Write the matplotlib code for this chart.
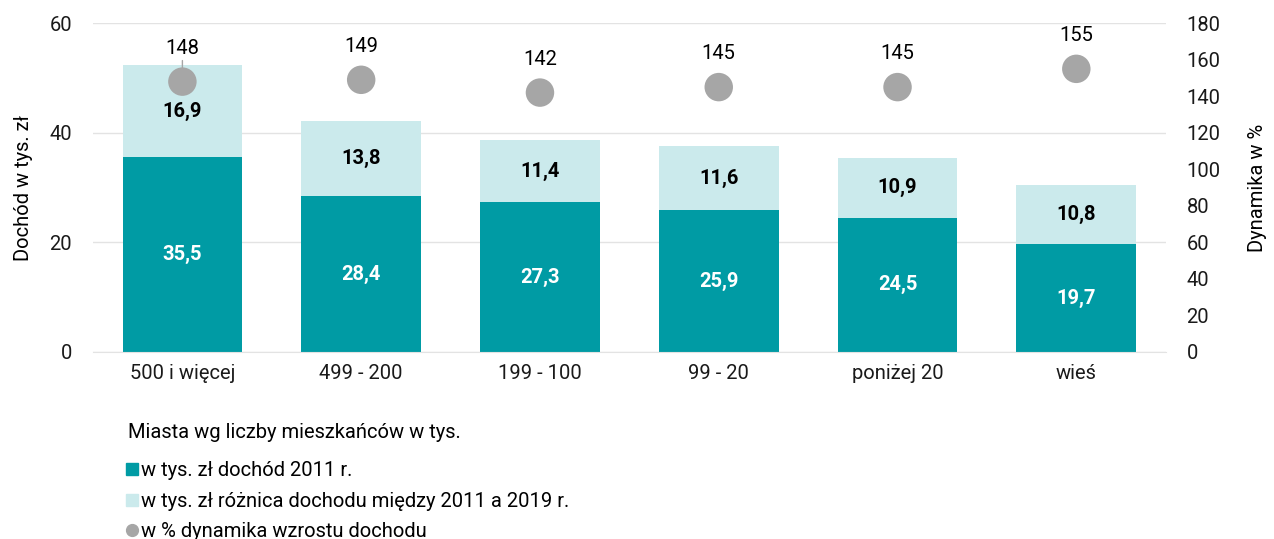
import matplotlib.pyplot as plt
import numpy as np

plt.rcParams['font.family'] = ['Roboto', 'DejaVu Sans']

categories = ['500 i więcej', '499 - 200', '199 - 100', '99 - 20', 'poniżej 20', 'wieś']
income_2011 = [35.5, 28.4, 27.3, 25.9, 24.5, 19.7]
diff_2019 = [16.9, 13.8, 11.4, 11.6, 10.9, 10.8]
dynamics = [148, 149, 142, 145, 145, 155]

dark = '#009ba4'
light = '#cbeaec'
grey = '#a6a6a6'
fs = 14.5

fig = plt.figure(figsize=(12.74, 5.39), dpi=100)
ax = fig.add_axes([0.073, 0.347, 0.842, 0.610])
x = np.arange(len(categories))
w = 0.67

ax.bar(x, income_2011, w, color=dark, zorder=2)
ax.bar(x, diff_2019, w, bottom=income_2011, color=light, zorder=2)

for i in range(len(x)):
    ax.text(x[i], income_2011[i] / 2, f'{income_2011[i]:.1f}'.replace('.', ','),
            ha='center', va='center', color='white', fontsize=fs, fontweight='bold', zorder=4)
    ax.text(x[i], income_2011[i] + diff_2019[i] / 2, f'{diff_2019[i]:.1f}'.replace('.', ','),
            ha='center', va='center', color='black', fontsize=fs, fontweight='bold', zorder=4)

ax.set_ylim(0, 60)
ax.set_xlim(-0.5, 5.5)
ax.set_yticks([0, 20, 40, 60])
ax.set_xticks(x)
ax.set_xticklabels(categories)
ax.yaxis.grid(True, color='#e3e3e3', linewidth=1, zorder=0)
ax.set_axisbelow(True)
for s in ['top', 'right', 'left']:
    ax.spines[s].set_visible(False)
ax.spines['bottom'].set_color('#e3e3e3')
ax.tick_params(length=0, labelsize=fs, colors='#1a1a1a')
ax.tick_params(axis='x', pad=9)
ax.tick_params(axis='y', pad=15)
ax.set_ylabel('Dochód w tys. zł', fontsize=fs, labelpad=12)

ax2 = ax.twinx()
ax2.set_ylim(0, 180)
ax2.set_yticks(range(0, 181, 20))
ax2.tick_params(length=0, labelsize=fs, pad=15, colors='#1a1a1a')
for s in ax2.spines.values():
    s.set_visible(False)
ax2.scatter(x, dynamics, s=420, color=grey, zorder=5, edgecolors='none')
for i in range(len(x)):
    arrow = dict(arrowstyle='-', color=grey, lw=1, shrinkA=0, shrinkB=8) if i == 0 else None
    ax2.annotate(str(dynamics[i]), (x[i], dynamics[i]), xytext=(0, 24),
                 textcoords='offset points', ha='center', va='center', fontsize=fs,
                 arrowprops=arrow, zorder=4)
ax2.set_ylabel('Dynamika w %', fontsize=fs, labelpad=20)

fig.text(128 / 1274, 1 - 432 / 539, 'Miasta wg liczby mieszkańców w tys.',
         fontsize=fs, va='center')

h1 = plt.Line2D([], [], marker='s', linestyle='none', color=dark, markersize=9)
h2 = plt.Line2D([], [], marker='s', linestyle='none', color=light, markersize=9)
h3 = plt.Line2D([], [], marker='o', linestyle='none', color=grey, markersize=8.5)
fig.legend([h1, h2, h3],
           ['w tys. zł dochód 2011 r.', 'w tys. zł różnica dochodu między 2011 a 2019 r.',
            'w % dynamika wzrostu dochodu'],
           loc='upper left', bbox_to_anchor=(126 / 1274, 1 - 461 / 539),
           frameon=False, fontsize=fs, handlelength=0.6, handletextpad=0.15,
           labelspacing=0.58, borderpad=0, borderaxespad=0)

fig.savefig('out.png', dpi=100)
